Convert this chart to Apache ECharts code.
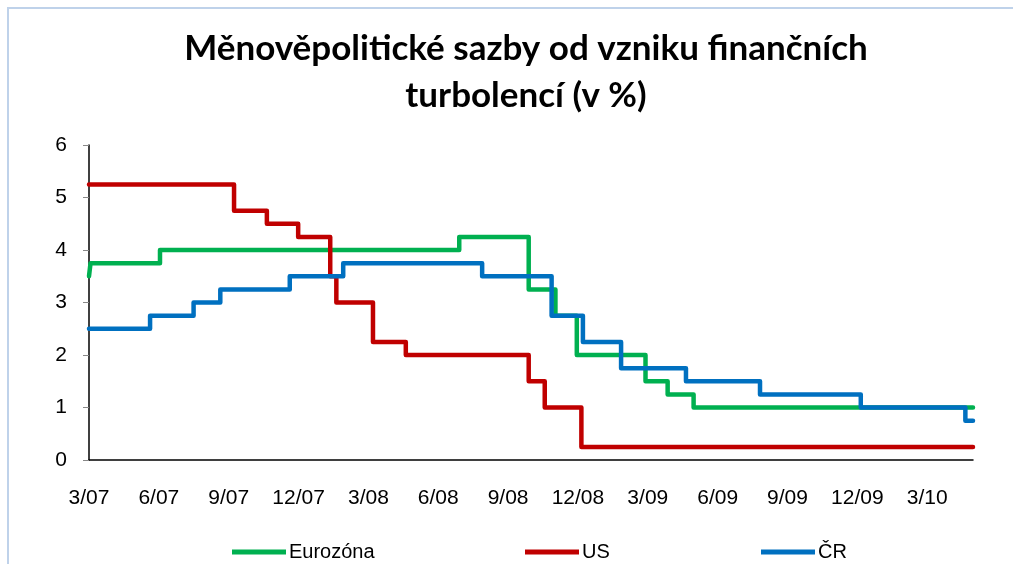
<!DOCTYPE html>
<html>
<head>
<meta charset="utf-8">
<script src="https://cdn.jsdelivr.net/npm/echarts@6/dist/echarts.min.js"></script>
<style>
html,body{margin:0;padding:0;background:#fff;}
#chart{width:1013px;height:564px;}
</style>
</head>
<body>
<div id="chart"></div>
<script>
// ---- data ----
const startDate = '2007-03-12';
const endDate = '2010-05-13';
const tickDays = 91.5;
const tickLabels = ['3/07','6/07','9/07','12/07','3/08','6/08','9/08','12/08','3/09','6/09','9/09','12/09','3/10'];
const yTicks = [0, 1, 2, 3, 4, 5, 6];

const seriesNames = ['Eurozóna', 'US', 'ČR'];

const euroDates = ['2007-03-12','2007-03-14','2007-06-13','2008-07-09','2008-10-08','2008-11-12','2008-12-10','2009-03-10','2009-04-08','2009-05-12','2010-05-13'];
const euroRates = [3.5, 3.75, 4.0, 4.25, 3.25, 2.75, 2.0, 1.5, 1.25, 1.0, 1.0];

const usDates = ['2007-03-12','2007-09-18','2007-10-31','2007-12-11','2008-01-22','2008-01-30','2008-03-18','2008-04-30','2008-10-08','2008-10-29','2008-12-16','2010-05-13'];
const usRates = [5.25, 4.75, 4.5, 4.25, 3.5, 3.0, 2.25, 2.0, 1.5, 1.0, 0.25, 0.25];

const czDates = ['2007-03-12','2007-05-31','2007-07-27','2007-08-31','2007-11-30','2008-02-08','2008-08-08','2008-11-07','2008-12-18','2009-02-06','2009-05-02','2009-08-07','2009-12-17','2010-05-03','2010-05-13'];
const czRates = [2.5, 2.75, 3.0, 3.25, 3.5, 3.75, 3.5, 2.75, 2.25, 1.75, 1.5, 1.25, 1.0, 0.75, 0.75];

// ---- helpers ----
function dayOffset(d) {
  return Math.round((Date.parse(d + 'T00:00:00Z') - Date.parse(startDate + 'T00:00:00Z')) / 86400000);
}
function pairs(dates, vals) {
  return dates.map((d, i) => [dayOffset(d), vals[i]]);
}
const colors = ['#00B050', '#C00000', '#0070C0'];

const chart = echarts.init(document.getElementById('chart'), null, {renderer: 'canvas'});

function mkSeries(name, dates, vals, color) {
  return {
    name: name,
    type: 'line',
    step: 'end',
    data: pairs(dates, vals),
    showSymbol: false,
    symbol: 'none',
    color: color,
    lineStyle: {color: color, width: 4.5, cap: 'round', join: 'round'},
    emphasis: {disabled: true},
    animation: false
  };
}

function mkLegend(name, left) {
  return {
    data: [name],
    left: left,
    top: 537,
    icon: 'rect',
    itemWidth: 54,
    itemHeight: 5,
    itemGap: 0,
    textStyle: {fontFamily: 'Liberation Sans', fontSize: 20, color: '#000', padding: [0,0,0,-2]},
    selectedMode: false
  };
}

const option = {
  backgroundColor: '#fff',
  animation: false,
  title: {
    text: 'Měnověpolitické sazby od vzniku finančních\nturbolencí (v %)',
    left: 521,
    top: 20,
    textAlign: 'center',
    textStyle: {fontFamily: 'Lato', fontWeight: 'bold', fontSize: 35, lineHeight: 47, color: '#000'}
  },
  graphic: [{
    type: 'rect',
    shape: {x: 8, y: 8, width: 1100, height: 700},
    style: {fill: 'none', stroke: '#BFD2EA', lineWidth: 2},
    silent: true
  }],
  legend: [
    mkLegend(seriesNames[0], 227),
    mkLegend(seriesNames[1], 520),
    mkLegend(seriesNames[2], 756)
  ],
  grid: {left: 89, right: 40, top: 145, bottom: 104, containLabel: false},
  xAxis: {
    type: 'value',
    min: 0,
    max: dayOffset(endDate),
    interval: tickDays,
    splitLine: {show: false},
    axisLine: {show: true, lineStyle: {color: '#000', width: 1.5}},
    axisTick: {show: false},
    axisLabel: {
      show: true,
      margin: 28,
      showMaxLabel: false,
      fontFamily: 'Liberation Sans',
      fontSize: 21,
      color: '#000',
      formatter: function (v) {
        const i = Math.round(v / tickDays);
        if (Math.abs(v - i * tickDays) > 1 || i < 0 || i >= tickLabels.length) return '';
        return tickLabels[i];
      }
    }
  },
  yAxis: {
    type: 'value',
    min: yTicks[0],
    max: yTicks[yTicks.length - 1],
    interval: 1,
    splitLine: {show: false},
    axisLine: {show: true, lineStyle: {color: '#000', width: 1.5}},
    axisTick: {show: true, length: 6, lineStyle: {color: '#888'}},
    axisLabel: {margin: 22, fontFamily: 'Liberation Sans', fontSize: 21, color: '#000'}
  },
  series: [
    mkSeries(seriesNames[0], euroDates, euroRates, colors[0]),
    mkSeries(seriesNames[1], usDates, usRates, colors[1]),
    mkSeries(seriesNames[2], czDates, czRates, colors[2])
  ]
};
chart.setOption(option);
</script>
</body>
</html>
